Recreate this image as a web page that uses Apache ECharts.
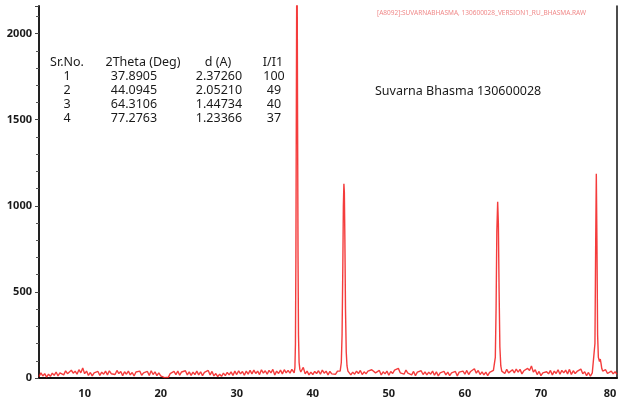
<!DOCTYPE html>
<html>
<head>
<meta charset="utf-8">
<script src="https://cdn.jsdelivr.net/npm/echarts@6/dist/echarts.min.js"></script>
<style>html,body{margin:0;padding:0;background:#fff}#c{width:620px;height:401px}</style>
</head>
<body>
<div id="c"></div>
<script>
// ---- data ----
var scanStart = 4, scanStep = 0.25;
var background = [
 8,30,12,25, 5,22,10,28, 15,35,12,30, 38,18,42,25, 20,45,28,40, 22,48,30,58,
 25,40,15,32, 12,30,20,38, 15,34,22,40, 18,42,25,36, 20,44,26,38, 14,36,22,40,
 18,32,12,35, 25,40,16,30, 22,38,15,42, 20,36,14,30, 12,5,2,6, 4,25,14,38,
 20,40,16,35, 24,42,18,36, 15,34,20,40, 18,36,14,32, 22,44,18,38, 12,26,8,22,
 10,28,14,32, 18,36,15,40, 20,42,24,38, 16,40,22,44, 24,46,26,40, 20,48,28,42,
 22,44,30,50, 18,40,26,46, 24,48,30,44, 28,50,45,40, 40,40,42,62, 24,40,18,34,
 20,38,26,42, 22,46,28,40, 18,38,24,30, 22,40,30,38, 40,40,40,38, 18,34,22,40,
 26,44,20,36, 24,40,30,48, 52,30,20,44, 18,36,24,40, 16,38,26,46, 44,56,30,40,
 22,46,28,36, 18,38,14,34, 26,42,20,36, 18,34,22,40, 16,36,12,30, 24,38,18,34,
 14,30,20,38, 12,34,24,40, 22,44,20,38, 30,54,28,44, 20,36,18,34, 14,32,26,44,
 40,40,40,40, 46,26,50,30, 28,48,30,52, 34,50,24,42, 38,56,44,70, 34,48,20,38,
 14,30,20,36, 24,44,18,40, 26,48,22,44, 30,46,24,50, 20,42,26,38, 34,52,24,36,
 14,32,10,30, 30,30,30,30, 30,38,48,26, 20,40,24,36, 22
];
var peak1Theta  = [37.55, 37.65, 37.72, 37.78, 37.84, 37.89, 37.95, 38.0, 38.06, 38.12, 38.2, 38.3, 38.42];
var peak1Counts = [30, 60, 200, 700, 1600, 2300, 2250, 1500, 700, 250, 90, 50, 35];
var peak2Theta  = [43.6, 43.75, 43.85, 43.95, 44.02, 44.09, 44.15, 44.22, 44.3, 44.4, 44.5, 44.62];
var peak2Counts = [40, 90, 250, 650, 1000, 1128, 1080, 800, 400, 150, 70, 40];
var peak3Theta  = [63.85, 64.0, 64.1, 64.2, 64.31, 64.4, 64.5, 64.6, 64.72, 64.85];
var peak3Counts = [40, 120, 400, 850, 1023, 900, 500, 180, 70, 40];
var peak4Theta  = [76.95, 77.1, 77.2, 77.28, 77.36, 77.45, 77.55, 77.7, 77.8, 77.9, 78.0, 78.12];
var peak4Counts = [40, 200, 800, 1186, 800, 250, 120, 95, 110, 85, 55, 40];
var xTicks = [10, 20, 30, 40, 50, 60, 70, 80];
var yTicks = [0, 500, 1000, 1500, 2000];
var tableHeader = ['Sr.No.', '2Theta (Deg)', 'd (A)', 'I/I1'];
var tableSr    = ['1', '2', '3', '4'];
var tableTheta = ['37.8905', '44.0945', '64.3106', '77.2763'];
var tableD     = ['2.37260', '2.05210', '1.44734', '1.23366'];
var tableI     = ['100', '49', '40', '37'];
var sampleTitle = 'Suvarna Bhasma 130600028';
var fileTag = '[A8092]:SUVARNABHASMA, 130600028_VERSION1_RU_BHASMA.RAW';

// ---- build the scan ----
var peaks = [[peak1Theta, peak1Counts],[peak2Theta, peak2Counts],[peak3Theta, peak3Counts],[peak4Theta, peak4Counts]];
var pts = [];
background.forEach(function(v, i){
  var x = +(scanStart + i*scanStep).toFixed(2);
  var inPeak = peaks.some(function(p){ return x >= p[0][0] && x <= p[0][p[0].length-1]; });
  if (!inPeak) pts.push([x, v]);
});
peaks.forEach(function(p){ p[0].forEach(function(x, i){ pts.push([x, p[1][i]]); }); });
pts.sort(function(a,b){ return a[0]-b[0]; });

var chart = echarts.init(document.getElementById('c'), null, {renderer:'canvas'});
var FONT = '"Noto Sans", "DejaVu Sans", sans-serif';
var txt = '#1a1a1a';
var graphics = [];
var colX = [67, 143, 218, 273];
var rowY = [62, 76, 90, 104, 118];
tableHeader.forEach(function(h, i){
  graphics.push({type:'text', x: colX[i], y: rowY[0], style:{text:h, font:'12.5px ' + FONT, fill:txt, textAlign:'center', textVerticalAlign:'middle'}});
});
var cols = [tableSr, tableTheta, tableD, tableI];
var valX = [67, 134, 219, 274];
cols.forEach(function(col, ci){
  col.forEach(function(v, ri){
    graphics.push({type:'text', x: valX[ci], y: rowY[ri+1], style:{text:v, font:'12.5px ' + FONT, fill:txt, textAlign:'center', textVerticalAlign:'middle'}});
  });
});
graphics.push({type:'text', x: 375, y: 91, style:{text: sampleTitle, font:'12.5px ' + FONT, fill:txt, textAlign:'left', textVerticalAlign:'middle'}});
graphics.push({type:'text', x: 377, y: 13, style:{text: fileTag, font:'6.5px ' + FONT, fill:'#f08a8a', textAlign:'left', textVerticalAlign:'middle'}});

var lastTick = xTicks[xTicks.length - 1];
chart.setOption({
  animation: false,
  backgroundColor: '#fff',
  grid: {left: 39, right: 3, top: 6, bottom: 23, containLabel: false, outerBoundsMode: 'none'},
  xAxis: [{
    type: 'value', min: 4, max: 80, interval: 2, position: 'bottom',
    axisLine: {show: true, onZero: false, lineStyle: {color: '#aaa', width: 1}},
    axisTick: {show: false},
    splitLine: {show: false},
    axisLabel: {color: txt, fontSize: 11, fontWeight: 'bold', fontFamily: FONT, margin: 10, hideOverlap: false,
      formatter: function(v){
        if (xTicks.indexOf(v) < 0 || v === lastTick) return '';
        return String(v);
      }}
  },{
    type: 'value', min: 4, max: 80, position: 'top',
    axisLine: {show: true, lineStyle: {color: '#111', width: 2}},
    axisTick: {show: false}, axisLabel: {show: false}, splitLine: {show: false}
  }],
  yAxis: [{
    type: 'value', min: 0, max: 2160, interval: 500,
    axisLine: {show: true, onZero: false, lineStyle: {color: '#222', width: 2}},
    axisTick: {show: true, inside: false, length: 4, lineStyle: {color: '#444'}},
    minorTick: {show: true, splitNumber: 5, length: 3, lineStyle: {color: '#555'}},
    splitLine: {show: false},
    axisLabel: {color: txt, fontSize: 11, fontWeight: 'bold', fontFamily: FONT, margin: 7,
      formatter: function(v){ return yTicks.indexOf(v) >= 0 ? String(v) : ''; }}
  },{
    type: 'value', min: 0, max: 2160, position: 'right',
    axisLine: {show: true, lineStyle: {color: '#111', width: 1.5}},
    axisTick: {show: false}, axisLabel: {show: false}, splitLine: {show: false}
  }],
  series: [{
    type: 'line', data: pts, showSymbol: false, symbol: 'none', clip: true,
    xAxisIndex: 0, yAxisIndex: 0,
    lineStyle: {color: '#f21a1a', width: 1.4, opacity: 0.85}
  }],
  graphic: graphics
});
// last x tick label, placed through the axis scale and nudged inside the canvas
var lastPx = chart.convertToPixel({xAxisIndex: 0}, lastTick);
var zeroPy = chart.convertToPixel({yAxisIndex: 0}, 0);
graphics.push({type:'text', x: lastPx - 7, y: zeroPy + 10,
  style:{text: String(lastTick), font:'bold 11px ' + FONT, fill: txt, textAlign:'center', textVerticalAlign:'top'}});
chart.setOption({graphic: graphics});
</script>
</body>
</html>
